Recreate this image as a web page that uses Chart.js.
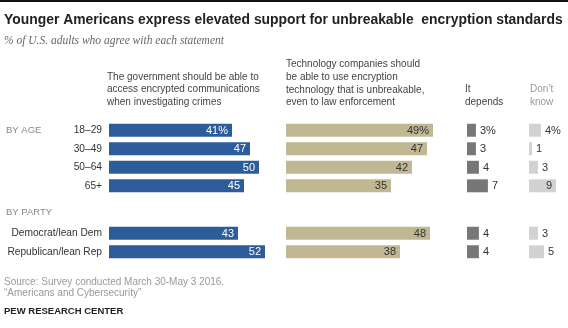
<!DOCTYPE html>
<html>
<head>
<meta charset="utf-8">
<script src="https://cdn.jsdelivr.net/npm/chart.js@4.4.1/dist/chart.umd.min.js"></script>
<style>
  html, body { margin: 0; padding: 0; background: #fff; }
  canvas { display: block; }
</style>
</head>
<body>
<canvas id="myChart" width="568" height="328"></canvas>
<script>
var ageGroups = ['18–29', '30–49', '50–64', '65+'];
var partyGroups = ['Democrat/lean Dem', 'Republican/lean Rep'];
// rows: 4 age groups, then 2 party groups
var govAccess = [41, 47, 50, 45, 43, 52];
var techUnbreakable = [49, 47, 42, 35, 48, 38];
var itDepends = [3, 3, 4, 7, 4, 4];
var dontKnow = [4, 1, 3, 9, 3, 5];

var FONT = '"Liberation Sans", Arial, sans-serif';

// each column gets its own x axis, all side by side in one stack
var columns = [
  { id: 'xGov', data: govAccess, max: 59, color: '#2d5c9b', text: '#fff', inside: true },
  { id: 'xTech', data: techUnbreakable, max: 60.3, color: '#bfb893', text: '#333', inside: true },
  { id: 'xDep', data: itDepends, max: 20.7, color: '#777777', text: '#333', inside: false },
  { id: 'xDk', data: dontKnow, max: 11, color: '#d2d2d2', text: '#333', inside: false }
];
var sections = [
  { id: 'yAge', labels: ageGroups, from: 0 },
  { id: 'yParty', labels: partyGroups, from: 4 }
];

var datasets = [];
sections.forEach(function (s) {
  columns.forEach(function (c) {
    datasets.push({
      data: c.data.slice(s.from, s.from + s.labels.length),
      xAxisID: c.id,
      yAxisID: s.id,
      backgroundColor: c.color,
      grouped: false,
      barPercentage: 0.7,
      categoryPercentage: 1,
      _col: c,
      _from: s.from
    });
  });
});

var scales = {};
columns.forEach(function (c) {
  scales[c.id] = {
    type: 'linear', position: 'bottom', stack: 'cols', stackWeight: c.max,
    min: 0, max: c.max, display: false
  };
});
function yAxis(labels, weight, layoutWeight) {
  return {
    type: 'category', labels: labels, position: 'left', stack: 'rows',
    stackWeight: weight, weight: layoutWeight, offset: true,
    grid: { display: false, drawTicks: false },
    border: { display: false },
    ticks: { padding: 7, autoSkip: false, color: '#333', font: { family: FONT, size: 10.2 } },
    afterFit: function (scale) { scale.width = 109; }
  };
}
scales.yAge = yAxis(ageGroups, 4, 3);
scales.ySpacer = { type: 'category', labels: [''], position: 'left', stack: 'rows',
  stackWeight: 1.56, weight: 2, display: false };
scales.yParty = yAxis(partyGroups, 2, 1);

function txt(ctx, s, x, y, font, color, align) {
  ctx.font = font;
  ctx.fillStyle = color;
  ctx.textAlign = align || 'left';
  ctx.textBaseline = 'middle';
  ctx.fillText(s, x, y);
}

var textPlugin = {
  id: 'texts',
  afterDatasetsDraw: function (chart) {
    var ctx = chart.ctx;
    ctx.save();
    chart.data.datasets.forEach(function (ds, i) {
      var meta = chart.getDatasetMeta(i);
      meta.data.forEach(function (bar, j) {
        var label = ds.data[j] + (ds._from === 0 && j === 0 ? '%' : '');
        var f = '11px ' + FONT;
        // small bars get their number beside them, wide ones inside
        if (ds._col.inside || bar.x - bar.base > 24) {
          txt(ctx, label, bar.x - 4, bar.y + 0.5, f, ds._col.text, 'right');
        } else {
          txt(ctx, label, bar.x + 4, bar.y + 0.5, f, ds._col.text, 'left');
        }
      });
    });
    ctx.restore();
  },
  afterDraw: function (chart) {
    var ctx = chart.ctx;
    ctx.save();
    ctx.fillStyle = '#111';
    ctx.fillRect(0, 0, chart.width, 2);

    // title, fitted to the reference width
    var title = 'Younger Americans express elevated support for unbreakable  encryption standards';
    ctx.font = 'bold 15px ' + FONT;
    var size = 15 * 559 / ctx.measureText(title).width;
    txt(ctx, title, 4, 20, 'bold ' + size.toFixed(2) + 'px ' + FONT, '#222');
    txt(ctx, '% of U.S. adults who agree with each statement', 4, 41,
      'italic 11.5px "Liberation Serif", "DejaVu Serif", serif', '#666');

    var hf = '10px ' + FONT;
    ['The government should be able to', 'access encrypted communications', 'when investigating crimes']
      .forEach(function (l, k) { txt(ctx, l, 107, 77 + k * 12.6, hf, '#444'); });
    ['Technology companies should', 'be able to use encryption', 'technology that is unbreakable,', 'even to law enforcement']
      .forEach(function (l, k) { txt(ctx, l, 286, 64.6 + k * 12.6, hf, '#444'); });
    txt(ctx, 'It', 465, 89.4, hf, '#444');
    txt(ctx, 'depends', 465, 102, hf, '#444');
    txt(ctx, 'Don\u2019t', 530, 89.4, hf, '#999');
    txt(ctx, 'know', 530, 102, hf, '#999');

    var gf = '9.5px ' + FONT;
    txt(ctx, 'BY AGE', 6, 130.5, gf, '#888');
    txt(ctx, 'BY PARTY', 6, 212, gf, '#888');

    var sf = '10px ' + FONT;
    txt(ctx, 'Source: Survey conducted March 30-May 3 2016.', 4, 282, sf, '#999');
    txt(ctx, '\u201cAmericans and Cybersecurity\u201d', 4, 293.5, sf, '#999');
    txt(ctx, 'PEW RESEARCH CENTER', 4, 311, 'bold 9.5px ' + FONT, '#222');
    ctx.restore();
  }
};

var element = document.getElementById('myChart').getContext('2d');
var chart = new Chart(element, {
  type: 'bar',
  data: { datasets: datasets },
  options: {
    indexAxis: 'y',
    responsive: false,
    animation: false,
    devicePixelRatio: 1,
    layout: { padding: { top: 121, bottom: 67, left: 0, right: 6 } },
    plugins: { legend: { display: false }, tooltip: { enabled: false } },
    scales: scales
  },
  plugins: [textPlugin]
});
</script>
</body>
</html>
